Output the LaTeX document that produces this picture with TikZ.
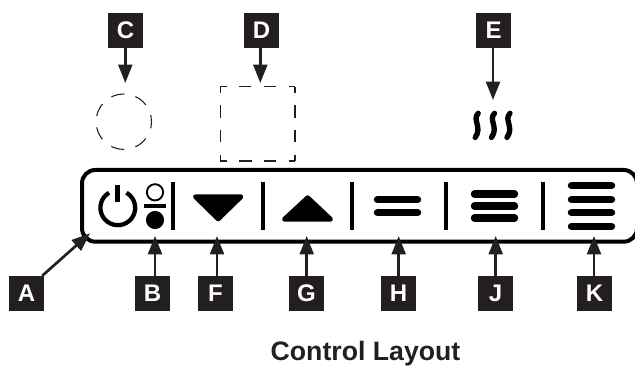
\documentclass[tikz,border=0pt]{standalone}
\usepackage{fontspec}
\setmainfont{Liberation Sans}
\usetikzlibrary{arrows.meta,calc}
\definecolor{ink}{HTML}{231F20}
\tikzset{
  x=0.75pt,y=-0.75pt,
  letterbox/.style={fill=ink,text=white,font=\fontsize{18}{18}\selectfont\bfseries,minimum size=26.2pt,inner sep=0pt,text depth=0pt,anchor=center},
  callout/.style={draw=ink,line width=2pt,-{Triangle[length=13.8pt,width=10.4pt,fill=ink]}},
  sep/.style={line width=3pt,black},
  barline/.style={line width=5.6pt,line cap=round,black},
  dashgeo/.style={draw=ink,line width=0.8pt},
  steam/.style={line width=4pt,line cap=round,black},
  tri/.style={fill=black,draw=black,line width=3.6pt,line join=round},
}
\begin{document}
\begin{tikzpicture}
\useasboundingbox (0,0) rectangle (635,366);
% panel
\begin{scope}
\clip (0,0) rectangle (635,366);
\draw[line width=3pt,black,rounded corners=10pt] (82,170) rectangle (637,241.7);
\end{scope}
% separators
\foreach \x in {173,263,352,446,542.7}{\draw[sep] (\x,182) -- (\x,230);}
% power
\draw[black,line width=3.2pt] (109.1,192.7) arc[start angle=120,end angle=420,radius=13.05pt];
\draw[black,line width=3.8pt] (117.7,185) -- (117.7,202);
% on off
\draw[black,line width=1.4pt] (155,192.3) circle[radius=6.1pt];
\draw[black,line width=3pt] (144,205.7) -- (165.7,205.7);
\fill[black] (155,220) circle[radius=6.8pt];
% triangles
\draw[tri] (195.4,196.7) -- (241,196.7) -- (218.2,218.9) -- cycle;
\draw[tri] (284.4,219.3) -- (330.6,219.3) -- (307.7,197.7) -- cycle;
% bars
\foreach \y in {199.7,212.7}{\draw[barline] (377.5,\y) -- (417.5,\y);}
\foreach \y in {194,206,218}{\draw[barline] (474.5,\y) -- (514.5,\y);}
\foreach \y in {185.7,199.7,212.7,226.3}{\draw[barline] (571.5,\y) -- (611.5,\y);}
% C D E targets
\draw[dashgeo,dash pattern=on 10pt off 8.64pt,dash phase=5pt] (123.8,121.7) circle[radius=20.8pt];
\draw[dashgeo,dash pattern=on 9.3pt off 9.3pt,dash phase=4.65pt]
  (220.3,86.7) -- (295,86.7) (295,86.7) -- (295,161) (295,161) -- (220.3,161) (220.3,161) -- (220.3,86.7);
\foreach \x in {476.7,493,508.5}{
  \draw[steam] (\x+1.5,113.3) .. controls (\x-5,120) and (\x+6,127) .. (\x-1.5,137.4);
}
% targets as coordinates
\coordinate (ta) at (90,233.3);
\coordinate (tb) at (155,236);
\coordinate (tf) at (217,236);
\coordinate (tg) at (306.7,236);
\coordinate (th) at (398.7,236);
\coordinate (tj) at (495.7,236);
\coordinate (tk) at (594,236);
\coordinate (tc) at (125.3,83);
\coordinate (td) at (260.3,83);
\coordinate (te) at (493,100);
% boxes
\node[letterbox] (A) at (26.5,293.5) {A};
\node[letterbox] (B) at (152.5,293.5) {B};
\node[letterbox] (F) at (215.5,293.5) {F};
\node[letterbox] (G) at (306.5,293.5) {G};
\node[letterbox] (H) at (398.5,293.5) {H};
\node[letterbox] (J) at (495.5,293.5) {J};
\node[letterbox] (K) at (594.5,293.5) {K};
\node[letterbox] (C) at (125.5,30.5) {C};
\node[letterbox] (D) at (261.5,30.5) {D};
\node[letterbox] (E) at (493.5,30.5) {E};
% callouts
\draw[callout] ($(A.north east)+(-2,0)$) -- (ta);
\draw[callout] (tb|-B.north) -- (tb);
\draw[callout] (tf|-F.north) -- (tf);
\draw[callout] (tg|-G.north) -- (tg);
\draw[callout] (th|-H.north) -- (th);
\draw[callout] (tj|-J.north) -- (tj);
\draw[callout] (tk|-K.north) -- (tk);
\draw[callout] (tc|-C.south) -- (tc);
\draw[callout] (td|-D.south) -- (td);
\draw[callout] (te|-E.south) -- (te);
% title
\node[font=\fontsize{20}{22}\selectfont\bfseries,text=ink,anchor=base,inner sep=0pt] (title) at (365.5,360) {Control Layout};
\end{tikzpicture}
\end{document}
